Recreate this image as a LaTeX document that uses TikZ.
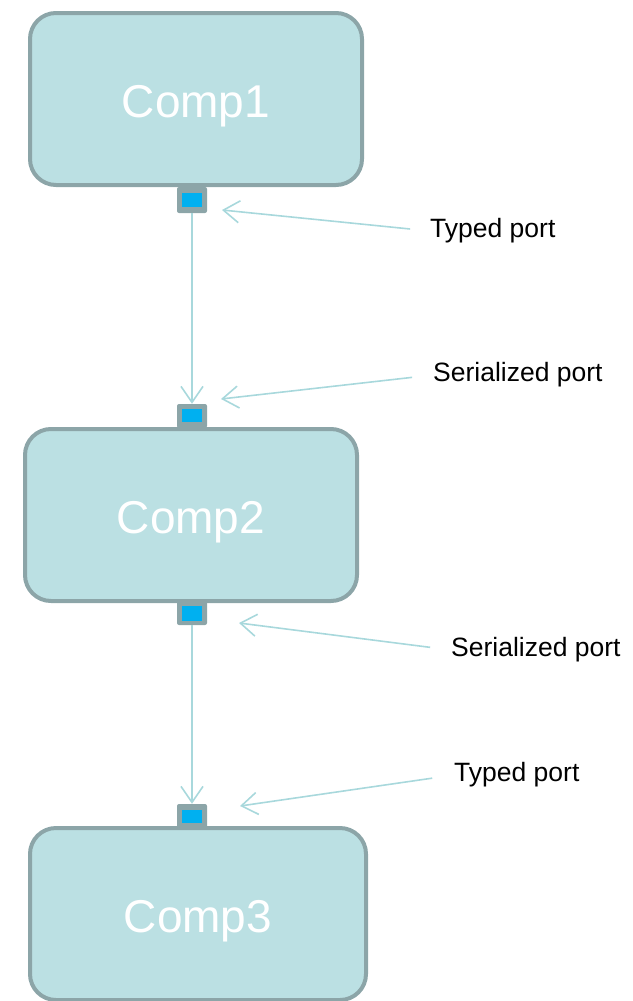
\documentclass[tikz,border=0pt]{standalone}
\usepackage{fontspec}
\setmainfont{Liberation Sans}
\usetikzlibrary{arrows.meta}
\definecolor{compfill}{HTML}{BBE0E3}
\definecolor{compedge}{HTML}{8CA5A8}
\definecolor{portblue}{HTML}{00B0F0}
\definecolor{wire}{HTML}{A8D8DC}
% component caption: baseline placed a fixed distance below the box centre
\newcommand{\comptext}[1]{\raisebox{-18.5pt}[0pt][0pt]{#1}}
\tikzset{
  comp/.style={rectangle, rounded corners=26pt, fill=compfill, draw=compedge,
    line width=4pt, minimum width=332pt, minimum height=172pt,
    text=white, font=\fontsize{46}{55}\selectfont, inner sep=0pt},
  portbox/.style={rectangle, rounded corners=2pt, fill=compedge, minimum width=30pt,
    minimum height=24pt, inner sep=0pt},
  portcore/.style={rectangle, fill=portblue, minimum width=20pt, minimum height=14pt, inner sep=0pt},
  wirearrow/.style={draw=wire, line width=1.6pt,
    -{Straight Barb[length=16pt,width=22pt,line width=1.6pt]}},
  note/.style={anchor=west, inner sep=0pt, font=\fontsize{26.5}{31}\selectfont}
}
\begin{document}
\begin{tikzpicture}[x=1pt,y=-1pt]
\useasboundingbox (0,0) rectangle (632,1001);

% components
\node[comp] (c1) at (196,99) {\comptext{Comp1}};
\node[comp] (c2) at (191,515) {\comptext{Comp2}};
\node[comp, minimum width=336pt] (c3) at (198,914) {\comptext{Comp3}};

% ports
\node[portbox, minimum height=26pt] (p1) at (192,200) {};
\node[portcore] (p1c) at (192,200) {};
\node[portbox] (p2) at (192,416) {};
\node[portcore, minimum height=13pt] (p2c) at (192,415.5) {};
\node[portbox] (p3) at (192,613) {};
\node[portcore, minimum height=15pt] (p3c) at (192,613) {};
\node[portbox] (p4) at (192,816) {};
\node[portcore, minimum height=13pt] (p4c) at (192,816.5) {};

% connections between components
\draw[wirearrow] (p1.south) -- (p2.north);
\draw[wirearrow] (p3.south) -- (p4.north);

% port labels
\node[note] (l1) at (430,231) {Typed port};
\node[note] (l2) at (433,375) {Serialized port};
\node[note] (l3) at (451,650) {Serialized port};
\node[note] (l4) at (454,775) {Typed port};

\coordinate (t1) at (222,210);
\coordinate (t2) at (221,399);
\coordinate (t3) at (239,623);
\coordinate (t4) at (240,806);

\draw[wirearrow, shorten <=20pt] (l1.west) -- (t1);
\draw[wirearrow, shorten <=21pt] (l2.west) -- (t2);
\draw[wirearrow, shorten <=21pt] (l3.west) -- (t3);
\draw[wirearrow, shorten <=22pt] (l4.west) -- (t4);
\end{tikzpicture}
\end{document}
